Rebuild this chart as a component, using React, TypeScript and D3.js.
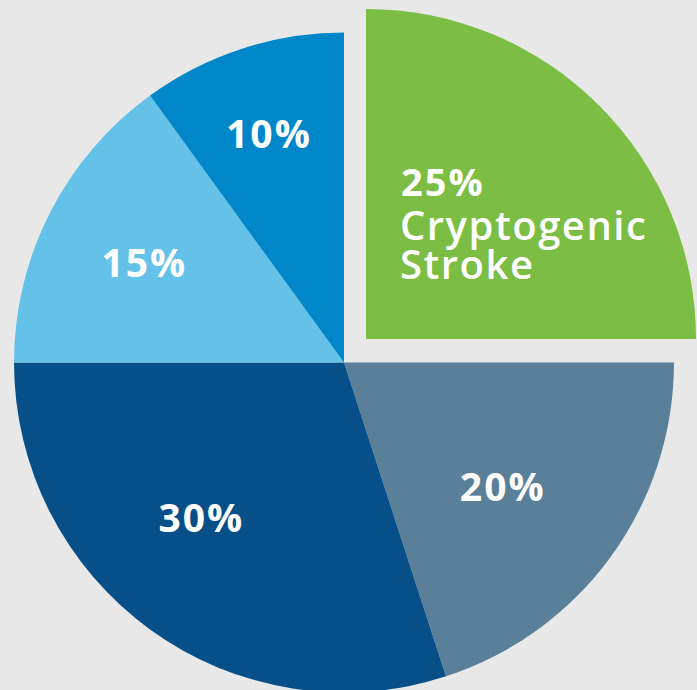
import React from "react";
import * as d3 from "d3";

const categories = ["Cryptogenic Stroke", "Other A", "Other B", "Other C", "Other D"];
const values = [25, 20, 30, 15, 10];
const valueLabels = ["25%", "20%", "30%", "15%", "10%"];
const colors = ["#7cbd43", "#5a7f98", "#064f88", "#64c1e8", "#0087ca"];

const W = 697;
const H = 690;
const CX = 344;
const CY = 362.5;
const R = 330;
// label placement (polar: degrees clockwise from 12 o'clock, radius)
const labelAngle = [0, 128.3, 222.7, 296.4, 341.6];
const labelRadius = [0, 201, 212, 224, 241];

const FONT = "'Open Sans', Lato, sans-serif";

export default function App() {
  const pie = d3.pie<number>().sort(null).value((d) => d);
  const arcs = pie(values);
  const arc = d3.arc<d3.PieArcDatum<number>>().innerRadius(0).outerRadius(R);
  const explode = { dx: 22, dy: -23.5 };

  return (
    <svg
      width={W}
      height={H}
      style={{ position: "absolute", left: 0, top: 0, background: "#e8e8e8" }}
    >
      <rect x={0} y={0} width={W} height={H} fill="#e8e8e8" />
      <g transform={`translate(${CX},${CY})`}>
        {arcs.map((a, i) => (
          <path
            key={categories[i]}
            d={arc(a) || ""}
            fill={colors[i]}
            transform={i === 0 ? `translate(${explode.dx},${explode.dy})` : undefined}
          />
        ))}
        {arcs.map((a, i) => {
          if (i === 0) return null;
          const t = (labelAngle[i] * Math.PI) / 180;
          const x = Math.sin(t) * labelRadius[i];
          const y = -Math.cos(t) * labelRadius[i];
          return (
            <text
              key={"l" + i}
              x={x + 1}
              y={y + 14}
              textAnchor="middle"
              fill="#fff"
              fontFamily={FONT}
              fontWeight={700}
              fontSize={39}
              letterSpacing={2}
            >
              {valueLabels[i]}
            </text>
          );
        })}
        <g transform={`translate(${explode.dx},${explode.dy})`}>
          <text x={35} y={-143} fill="#fff" fontFamily={FONT} fontWeight={700} fontSize={38} letterSpacing={2}>
            {valueLabels[0]}
          </text>
          <text x={34} y={-99} fill="#fff" fontFamily={FONT} fontWeight={600} fontSize={40} letterSpacing={1.5}>
            Cryptogenic
          </text>
          <text x={34} y={-60} fill="#fff" fontFamily={FONT} fontWeight={600} fontSize={40} letterSpacing={1.5}>
            Stroke
          </text>
        </g>
      </g>
    </svg>
  );
}
